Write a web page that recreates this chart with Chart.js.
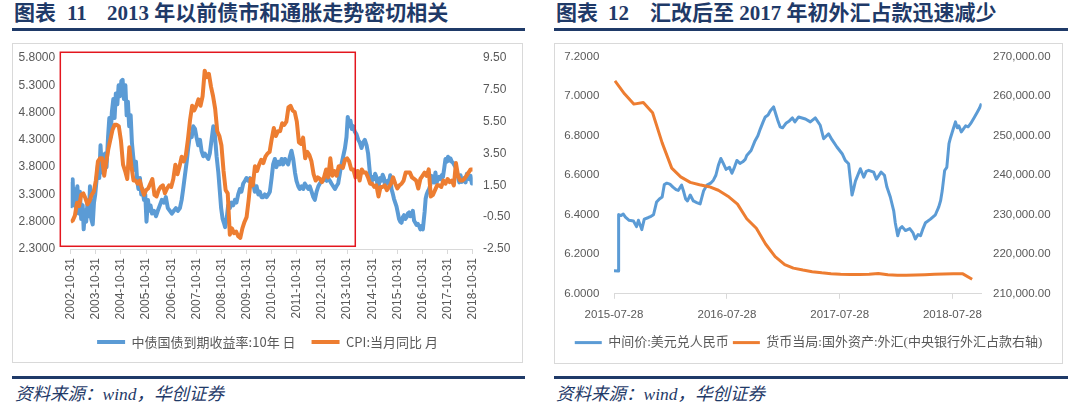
<!DOCTYPE html>
<html>
<head>
<meta charset="utf-8">
<script src="https://cdn.jsdelivr.net/npm/chart.js@4.4.0/dist/chart.umd.min.js"></script>
<style>
  body { margin: 0; width: 1079px; height: 413px; background: #fff; position: relative; overflow: hidden; }
  .title { position: absolute; top: 2px; font-family: "Liberation Serif", "Noto Sans CJK SC", serif; font-weight: bold;
           font-size: 21px; line-height: 22px; color: #1f3a68; white-space: nowrap; }
  .rule { position: absolute; height: 3px; background: #1f3a68; }
  .card { position: absolute; border: 1px solid #d9d9d9; box-sizing: border-box; }
  .source { position: absolute; top: 384px; font-family: "Liberation Serif", "Noto Sans CJK SC", serif; font-style: italic;
            font-size: 17.5px; line-height: 20px; color: #1f3a68; white-space: nowrap; }
  canvas { position: absolute; }
</style>
</head>
<body>

<div class="title" style="left:14px">图表<span style="margin-left:11px">11</span></div>
<div class="title" style="left:107px">2013 年以前债市和通胀走势密切相关</div>
<div class="rule" style="left:12px; width:513px; top:28px"></div>
<div class="card" style="left:12px; top:43px; width:511px; height:320px"></div>
<canvas id="leftChart" width="511" height="319" style="left:12px; top:43px"></canvas>
<div class="rule" style="left:12px; width:513px; top:376px"></div>
<div class="source" style="left:15px">资料来源：wind，华创证券</div>

<div class="title" style="left:556px">图表<span style="margin-left:10px">12</span></div>
<div class="title" style="left:650px">汇改后至 2017 年初外汇占款迅速减少</div>
<div class="rule" style="left:554px; width:514px; top:28px"></div>
<div class="card" style="left:554px; top:43px; width:509px; height:321px"></div>
<canvas id="rightChart" width="509" height="319" style="left:554px; top:43px"></canvas>
<div class="rule" style="left:554px; width:514px; top:376px"></div>
<div class="source" style="left:556px">资料来源：wind，华创证券</div>

<script>
// ---------- left chart data ----------
const leftXTickLabels = ['2002-10-31', '2003-10-31', '2004-10-31', '2005-10-31', '2006-10-31', '2007-10-31',
  '2008-10-31', '2009-10-31', '2010-10-31', '2011-10-31', '2012-10-31', '2013-10-31', '2014-10-31',
  '2015-10-31', '2016-10-31', '2017-10-31', '2018-10-31'];
const yieldTicks = [2.3, 2.8, 3.3, 3.8, 4.3, 4.8, 5.3, 5.8];
const cpiTicks = [-2.5, -0.5, 1.5, 3.5, 5.5, 7.5, 9.5];

// 10y government bond yield, [year, value]
const bondYield = [
  [2002.83, 3.05], [2002.86, 3.50], [2002.88, 3.15], [2002.91, 3.58], [2002.95, 3.10], [2002.99, 3.40],
  [2003.04, 3.05], [2003.10, 3.45], [2003.15, 2.95], [2003.20, 3.35], [2003.25, 2.85], [2003.31, 3.10],
  [2003.35, 2.66], [2003.40, 3.00], [2003.45, 2.80], [2003.51, 3.20], [2003.56, 2.90], [2003.60, 3.45],
  [2003.65, 2.85], [2003.71, 2.75], [2003.76, 3.15], [2003.81, 3.30], [2003.86, 3.55], [2003.92, 3.85],
  [2003.97, 3.60], [2004.02, 4.20], [2004.08, 3.70], [2004.13, 3.90], [2004.20, 4.05], [2004.26, 3.80],
  [2004.32, 4.35], [2004.37, 4.70], [2004.42, 4.35], [2004.47, 4.80], [2004.53, 5.05], [2004.58, 4.70],
  [2004.63, 5.15], [2004.69, 4.95], [2004.74, 5.30], [2004.79, 5.10], [2004.85, 5.38], [2004.90, 5.40],
  [2004.95, 5.05], [2005.01, 5.30], [2005.06, 4.75], [2005.11, 5.00], [2005.16, 4.55], [2005.22, 4.75],
  [2005.27, 4.25], [2005.32, 4.00], [2005.38, 3.75], [2005.43, 3.90], [2005.48, 3.55], [2005.53, 3.40],
  [2005.59, 3.60], [2005.64, 3.30], [2005.69, 3.40], [2005.75, 3.20], [2005.80, 3.30], [2005.85, 2.80],
  [2005.91, 3.20], [2005.96, 3.00], [2006.01, 3.10], [2006.07, 2.95], [2006.15, 3.00], [2006.23, 2.90],
  [2006.30, 3.00], [2006.38, 3.10], [2006.46, 3.20], [2006.54, 3.15], [2006.62, 3.25], [2006.70, 3.05],
  [2006.78, 3.00], [2006.86, 2.95], [2006.94, 3.00], [2007.02, 3.05], [2007.10, 3.00], [2007.18, 3.05],
  [2007.25, 3.20], [2007.31, 3.40], [2007.38, 3.65], [2007.45, 3.90], [2007.51, 4.15], [2007.58, 4.40],
  [2007.65, 4.35], [2007.71, 4.55], [2007.78, 4.50], [2007.84, 4.35], [2007.91, 4.20], [2007.98, 4.30],
  [2008.04, 4.10], [2008.11, 4.00], [2008.17, 4.05], [2008.24, 4.00], [2008.31, 3.95], [2008.37, 4.05],
  [2008.44, 4.30], [2008.51, 4.55], [2008.57, 4.40], [2008.64, 4.00], [2008.71, 3.70], [2008.77, 3.35],
  [2008.82, 3.05], [2008.88, 2.85], [2008.93, 2.78], [2008.98, 2.70], [2009.04, 2.85], [2009.10, 3.10],
  [2009.17, 3.05], [2009.23, 3.15], [2009.30, 3.10], [2009.37, 3.20], [2009.43, 3.15], [2009.50, 3.30],
  [2009.57, 3.40], [2009.63, 3.35], [2009.70, 3.50], [2009.77, 3.55], [2009.83, 3.60], [2009.90, 3.55],
  [2009.97, 3.60], [2010.03, 3.45], [2010.10, 3.50], [2010.16, 3.35], [2010.23, 3.45], [2010.30, 3.30],
  [2010.36, 3.35], [2010.43, 3.25], [2010.50, 3.25], [2010.56, 3.30], [2010.63, 3.25], [2010.70, 3.30],
  [2010.76, 3.35], [2010.83, 3.60], [2010.89, 3.85], [2010.96, 3.95], [2011.02, 3.80], [2011.09, 3.90],
  [2011.16, 3.85], [2011.23, 3.95], [2011.29, 3.85], [2011.36, 3.95], [2011.43, 3.90], [2011.49, 3.85],
  [2011.56, 4.00], [2011.62, 4.10], [2011.69, 3.95], [2011.76, 3.70], [2011.82, 3.55], [2011.89, 3.45],
  [2011.95, 3.40], [2012.02, 3.45], [2012.09, 3.40], [2012.15, 3.50], [2012.22, 3.45], [2012.29, 3.40],
  [2012.35, 3.45], [2012.42, 3.35], [2012.49, 3.25], [2012.55, 3.20], [2012.62, 3.35], [2012.69, 3.45],
  [2012.75, 3.50], [2012.82, 3.55], [2012.88, 3.55], [2012.95, 3.60], [2013.02, 3.55], [2013.08, 3.60],
  [2013.15, 3.55], [2013.21, 3.50], [2013.28, 3.45], [2013.35, 3.40], [2013.41, 3.45], [2013.48, 3.50],
  [2013.55, 3.70], [2013.61, 3.85], [2013.68, 4.00], [2013.75, 4.15], [2013.81, 4.35], [2013.86, 4.72],
  [2013.92, 4.55], [2013.97, 4.65], [2014.02, 4.50], [2014.08, 4.55], [2014.14, 4.45], [2014.21, 4.40],
  [2014.28, 4.30], [2014.34, 4.25], [2014.41, 4.15], [2014.47, 4.25], [2014.54, 4.30], [2014.61, 4.20],
  [2014.67, 4.05], [2014.72, 3.80], [2014.76, 3.60], [2014.80, 3.50], [2014.85, 3.62], [2014.90, 3.58],
  [2014.95, 3.68], [2015.00, 3.62], [2015.05, 3.45], [2015.10, 3.48], [2015.15, 3.60], [2015.20, 3.55],
  [2015.25, 3.66], [2015.30, 3.60], [2015.35, 3.45], [2015.40, 3.50], [2015.45, 3.55], [2015.50, 3.50],
  [2015.55, 3.65], [2015.60, 3.40], [2015.65, 3.32], [2015.70, 3.22], [2015.75, 3.15], [2015.80, 3.08],
  [2015.85, 2.97], [2015.90, 2.85], [2015.95, 2.80], [2016.00, 2.78], [2016.05, 2.88], [2016.10, 2.92],
  [2016.15, 2.85], [2016.20, 2.88], [2016.25, 2.95], [2016.30, 2.97], [2016.35, 2.90], [2016.40, 2.93],
  [2016.45, 3.00], [2016.50, 2.82], [2016.55, 2.78], [2016.60, 2.74], [2016.65, 2.76], [2016.70, 2.72],
  [2016.75, 2.66], [2016.80, 2.72], [2016.85, 2.66], [2016.88, 2.80], [2016.92, 2.98], [2016.96, 3.22],
  [2017.00, 3.30], [2017.05, 3.36], [2017.10, 3.40], [2017.15, 3.48], [2017.20, 3.64], [2017.25, 3.55],
  [2017.30, 3.52], [2017.35, 3.70], [2017.40, 3.52], [2017.45, 3.58], [2017.50, 3.62], [2017.55, 3.58],
  [2017.60, 3.65], [2017.65, 3.62], [2017.70, 3.78], [2017.75, 3.95], [2017.80, 3.90], [2017.85, 3.99],
  [2017.90, 3.92], [2017.95, 3.96], [2018.00, 3.90], [2018.05, 3.88], [2018.10, 3.84], [2018.15, 3.80],
  [2018.20, 3.72], [2018.25, 3.62], [2018.30, 3.52], [2018.35, 3.65], [2018.40, 3.53], [2018.45, 3.55],
  [2018.50, 3.60], [2018.55, 3.52], [2018.60, 3.68], [2018.65, 3.62], [2018.70, 3.58], [2018.75, 3.64],
  [2018.80, 3.50], [2018.83, 3.59]
];

// CPI yoy, monthly from 2002-10 to 2018-10
const cpiStartYear = 2002 + 10 / 12;
const cpiYoY = [
  -0.8, -0.7, -0.4,
  0.4, 0.2, 0.9, 1.0, 0.7, 0.3, 0.5, 0.9, 1.1, 1.8, 3.0, 3.2,
  3.2, 2.1, 3.0, 3.8, 4.4, 5.0, 5.3, 5.3, 5.2, 4.3, 2.8, 2.4,
  1.9, 3.9, 2.7, 1.8, 1.8, 1.6, 1.8, 1.3, 0.9, 1.2, 1.3, 1.6,
  1.9, 0.9, 0.8, 1.2, 1.4, 1.5, 1.0, 1.3, 1.5, 1.4, 1.9, 2.8,
  2.2, 2.7, 3.3, 3.0, 3.4, 4.4, 5.6, 6.5, 6.2, 6.5, 6.9, 6.5,
  7.1, 8.7, 8.3, 8.5, 7.7, 7.1, 6.3, 4.9, 4.6, 4.0, 2.4, 1.2,
  1.0, -1.6, -1.2, -1.5, -1.4, -1.7, -1.8, -1.2, -0.8, -0.5, 0.6, 1.9,
  1.5, 2.7, 2.4, 2.8, 3.1, 2.9, 3.3, 3.5, 3.6, 4.4, 5.1, 4.6,
  4.9, 4.9, 5.4, 5.3, 5.5, 6.4, 6.5, 6.2, 6.1, 5.5, 4.2, 4.1,
  4.5, 3.2, 3.6, 3.4, 3.0, 2.2, 1.8, 2.0, 1.9, 1.7, 2.0, 2.5,
  2.0, 3.2, 2.1, 2.4, 2.1, 2.7, 2.7, 2.6, 3.1, 3.2, 3.0, 2.5,
  2.5, 2.0, 2.4, 1.8, 2.5, 2.3, 2.3, 2.0, 1.6, 1.6, 1.4, 1.5,
  0.8, 1.4, 1.4, 1.5, 1.2, 1.4, 1.6, 2.0, 1.6, 1.3, 1.5, 1.6,
  1.8, 2.3, 2.3, 2.3, 2.0, 1.9, 1.8, 1.3, 1.9, 2.1, 2.3, 2.1,
  2.5, 0.8, 0.9, 1.2, 1.5, 1.5, 1.4, 1.8, 1.6, 1.9, 1.7, 1.8,
  1.5, 2.9, 2.1, 1.8, 1.8, 1.9, 2.1, 2.3, 2.5, 2.5
];

// red highlight box (x in years, y on the yield axis)
const highlightRange = { xFrom: 2002.42, xTo: 2014.16, yFrom: 2.35, yTo: 5.905 };

// ---------- right chart data ----------
const rightXTickLabels = ['2015-07-28', '2016-07-28', '2017-07-28', '2018-07-28'];
const cnyTicks = [6.0, 6.2, 6.4, 6.6, 6.8, 7.0, 7.2];
const fxTicks = [210000, 220000, 230000, 240000, 250000, 260000, 270000];

// USD/CNY central parity, [date, value]
const usdCny = [
  ['2015-07-28', 6.117], ['2015-08-10', 6.116], ['2015-08-11', 6.230], ['2015-08-12', 6.331], ['2015-08-13', 6.401],
  ['2015-08-20', 6.396], ['2015-08-27', 6.404], ['2015-09-03', 6.388], ['2015-09-15', 6.372], ['2015-09-29', 6.368],
  ['2015-10-09', 6.340], ['2015-10-15', 6.372], ['2015-10-26', 6.325], ['2015-11-03', 6.378], ['2015-11-15', 6.385],
  ['2015-11-25', 6.392], ['2015-12-03', 6.400], ['2015-12-13', 6.465], ['2015-12-22', 6.480], ['2015-12-31', 6.490],
  ['2016-01-07', 6.553], ['2016-01-15', 6.560], ['2016-01-25', 6.555], ['2016-02-04', 6.540], ['2016-02-14', 6.527],
  ['2016-02-21', 6.523], ['2016-03-03', 6.550], ['2016-03-10', 6.515], ['2016-03-16', 6.480], ['2016-03-22', 6.470],
  ['2016-03-31', 6.500], ['2016-04-10', 6.470], ['2016-04-21', 6.462], ['2016-05-02', 6.455], ['2016-05-08', 6.490],
  ['2016-05-13', 6.520], ['2016-05-24', 6.550], ['2016-06-05', 6.560], ['2016-06-14', 6.575], ['2016-06-22', 6.600],
  ['2016-06-30', 6.650], ['2016-07-08', 6.685], ['2016-07-16', 6.660], ['2016-07-25', 6.630], ['2016-08-05', 6.640],
  ['2016-08-13', 6.610], ['2016-08-21', 6.640], ['2016-08-29', 6.675], ['2016-09-08', 6.660], ['2016-09-17', 6.668],
  ['2016-09-25', 6.680], ['2016-09-30', 6.700], ['2016-10-14', 6.725], ['2016-10-27', 6.775], ['2016-11-05', 6.800],
  ['2016-11-13', 6.835], ['2016-11-22', 6.870], ['2016-11-29', 6.895], ['2016-12-08', 6.905], ['2016-12-15', 6.925],
  ['2016-12-26', 6.946], ['2017-01-02', 6.910], ['2017-01-08', 6.880], ['2017-01-16', 6.845], ['2017-01-24', 6.840],
  ['2017-02-05', 6.865], ['2017-02-15', 6.875], ['2017-02-25', 6.890], ['2017-03-05', 6.870], ['2017-03-17', 6.895],
  ['2017-04-08', 6.885], ['2017-04-24', 6.870], ['2017-05-10', 6.890], ['2017-05-26', 6.853], ['2017-06-06', 6.785],
  ['2017-06-22', 6.810], ['2017-07-03', 6.780], ['2017-07-19', 6.743], ['2017-08-05', 6.709], ['2017-08-15', 6.675],
  ['2017-08-26', 6.658], ['2017-09-06', 6.500], ['2017-09-11', 6.530], ['2017-09-17', 6.570], ['2017-10-03', 6.633],
  ['2017-10-14', 6.590], ['2017-10-22', 6.620], ['2017-10-30', 6.625], ['2017-11-15', 6.616], ['2017-11-24', 6.580],
  ['2017-12-09', 6.616], ['2017-12-20', 6.600], ['2017-12-28', 6.540], ['2018-01-08', 6.490], ['2018-01-19', 6.420],
  ['2018-01-24', 6.360], ['2018-02-01', 6.294], ['2018-02-08', 6.330], ['2018-02-15', 6.340], ['2018-02-26', 6.320],
  ['2018-03-12', 6.330], ['2018-03-22', 6.310], ['2018-03-30', 6.277], ['2018-04-08', 6.300], ['2018-04-16', 6.294],
  ['2018-04-24', 6.330], ['2018-05-02', 6.360], ['2018-05-18', 6.378], ['2018-06-03', 6.400], ['2018-06-14', 6.440],
  ['2018-06-20', 6.472], ['2018-06-25', 6.520], ['2018-07-03', 6.624], ['2018-07-10', 6.640], ['2018-07-17', 6.760],
  ['2018-07-22', 6.790], ['2018-07-30', 6.830], ['2018-08-07', 6.870], ['2018-08-13', 6.840], ['2018-08-18', 6.850],
  ['2018-08-26', 6.819], ['2018-09-02', 6.835], ['2018-09-09', 6.850], ['2018-09-17', 6.845], ['2018-09-25', 6.861],
  ['2018-10-06', 6.890], ['2018-10-17', 6.920], ['2018-10-24', 6.940], ['2018-10-30', 6.963]
];

// central bank foreign exchange assets, month ends
const fxMonths = ['2015-07', '2015-08', '2015-09', '2015-10', '2015-11', '2015-12',
  '2016-01', '2016-02', '2016-03', '2016-04', '2016-05', '2016-06', '2016-07', '2016-08', '2016-09',
  '2016-10', '2016-11', '2016-12', '2017-01', '2017-02', '2017-03', '2017-04', '2017-05', '2017-06',
  '2017-07', '2017-08', '2017-09', '2017-10', '2017-11', '2017-12', '2018-01', '2018-02', '2018-03',
  '2018-04', '2018-05', '2018-06', '2018-07', '2018-08', '2018-09'];
const fxAssets = [263900, 260600, 258000, 258400, 255800, 248200,
  241800, 239600, 238200, 237600, 237100, 236200, 234700, 232700, 229000,
  226600, 222600, 219400, 217400, 216500, 216000, 215600, 215300, 215100,
  214950, 214900, 214900, 214950, 215150, 214800, 214700, 214700, 214750,
  214850, 214950, 215000, 215050, 215050, 213700];

// ---------- helpers ----------
const axisColor = '#d9d9d9';
const labelColor = '#595959';

function monthEnd(ym) {
  const y = Number(ym.slice(0, 4));
  const m = Number(ym.slice(5, 7));
  return Date.UTC(y, m, 0);
}

// fixed axis size, and no extra vertical room for the end labels
function fixWidth(w) {
  return scale => {
    scale.width = w;
    scale.paddingTop = 0;
    scale.paddingBottom = 0;
  };
}
function fixHeight(h) {
  return scale => {
    scale.height = h;
    scale.paddingLeft = 0;
    scale.paddingRight = 0;
  };
}

// legend in dataset order, not draw order
const byDataset = (a, b) => a.datasetIndex - b.datasetIndex;

// draws the red rectangle around the pre-2014 period
const highlightBox = {
  id: 'highlightBox',
  afterDatasetsDraw(chart) {
    const ctx = chart.ctx;
    const x = chart.scales.x;
    const y = chart.scales.yL;
    const left = x.getPixelForValue(highlightRange.xFrom);
    const right = x.getPixelForValue(highlightRange.xTo);
    const top = y.getPixelForValue(highlightRange.yTo);
    const bottom = y.getPixelForValue(highlightRange.yFrom);
    ctx.save();
    ctx.strokeStyle = '#e3161e';
    ctx.lineWidth = 1.5;
    ctx.strokeRect(left, top, right - left, bottom - top);
    ctx.restore();
  }
};

// ---------- left chart ----------
new Chart(document.getElementById('leftChart'), {
  type: 'line',
  data: {
    datasets: [
      {
        label: '中债国债到期收益率:10年 日',
        data: bondYield.map(p => ({ x: p[0], y: p[1] })),
        yAxisID: 'yL',
        borderColor: '#5b9bd5',
        backgroundColor: '#5b9bd5',
        borderWidth: 4,
        pointRadius: 0,
        borderJoinStyle: 'round',
        order: 1
      },
      {
        label: 'CPI:当月同比 月',
        data: cpiYoY.map((v, i) => ({ x: cpiStartYear + i / 12, y: v })),
        yAxisID: 'yR',
        borderColor: '#ed7d31',
        backgroundColor: '#ed7d31',
        borderWidth: 4,
        pointRadius: 0,
        borderJoinStyle: 'round',
        order: 0
      }
    ]
  },
  options: {
    responsive: false,
    animation: false,
    layout: { padding: { top: 15, bottom: 3.5, left: 0, right: 0 } },
    plugins: {
      tooltip: { enabled: false },
      legend: {
        position: 'bottom',
        labels: {
          usePointStyle: true,
          pointStyle: 'line',
          pointStyleWidth: 28,
          padding: 16,
          color: labelColor,
          sort: byDataset,
          font: { family: '"Noto Sans CJK SC"', size: 13 }
        }
      }
    },
    scales: {
      x: {
        type: 'linear',
        min: cpiStartYear,
        max: cpiStartYear + 16,
        afterBuildTicks(scale) {
          scale.ticks = leftXTickLabels.map(s => ({ value: Number(s.slice(0, 4)) + 10 / 12 }));
        },
        afterFit: fixHeight(70.5),
        ticks: {
          autoSkip: false,
          minRotation: 90,
          maxRotation: 90,
          padding: 4,
          color: labelColor,
          font: { family: '"Liberation Sans"', size: 12 },
          callback: (v, i) => leftXTickLabels[i]
        },
        grid: { display: true, drawOnChartArea: false, drawTicks: true, tickLength: 5, color: axisColor },
        border: { display: true, color: axisColor }
      },
      yL: {
        position: 'left',
        min: 2.3,
        max: 5.8,
        afterBuildTicks(scale) { scale.ticks = yieldTicks.map(v => ({ value: v })); },
        afterFit: fixWidth(58.7),
        ticks: {
          padding: 15.5,
          color: labelColor,
          font: { family: '"Liberation Sans"', size: 12 },
          callback: v => v.toFixed(4)
        },
        grid: { display: false, drawTicks: false },
        border: { display: false }
      },
      yR: {
        position: 'right',
        min: -2.5,
        max: 9.5,
        afterBuildTicks(scale) { scale.ticks = cpiTicks.map(v => ({ value: v })); },
        afterFit: fixWidth(50.3),
        ticks: {
          padding: 10.3,
          color: labelColor,
          font: { family: '"Liberation Sans"', size: 12 },
          callback: v => v.toFixed(2)
        },
        grid: { display: false, drawTicks: false },
        border: { display: false }
      }
    }
  },
  plugins: [highlightBox]
});

// ---------- right chart ----------
new Chart(document.getElementById('rightChart'), {
  type: 'line',
  data: {
    datasets: [
      {
        label: '中间价:美元兑人民币',
        data: usdCny.map(p => ({ x: Date.parse(p[0]), y: p[1] })),
        yAxisID: 'yL',
        borderColor: '#5b9bd5',
        backgroundColor: '#5b9bd5',
        borderWidth: 3,
        pointRadius: 0,
        borderJoinStyle: 'round',
        order: 1
      },
      {
        label: '货币当局:国外资产:外汇(中央银行外汇占款右轴)',
        data: fxMonths.map((m, i) => ({ x: monthEnd(m), y: fxAssets[i] })),
        yAxisID: 'yR',
        borderColor: '#ed7d31',
        backgroundColor: '#ed7d31',
        borderWidth: 3,
        pointRadius: 0,
        borderJoinStyle: 'round',
        order: 0
      }
    ]
  },
  options: {
    responsive: false,
    animation: false,
    layout: { padding: { top: 13.7, bottom: 2.9, left: 0, right: 0 } },
    plugins: {
      tooltip: { enabled: false },
      legend: {
        position: 'bottom',
        labels: {
          usePointStyle: true,
          pointStyle: 'line',
          pointStyleWidth: 27,
          padding: 4,
          color: labelColor,
          sort: byDataset,
          font: { family: '"Liberation Serif", "Noto Sans CJK SC"', size: 13 }
        }
      }
    },
    scales: {
      x: {
        type: 'linear',
        min: Date.parse('2015-07-28'),
        max: Date.parse('2018-10-31'),
        afterBuildTicks(scale) {
          scale.ticks = rightXTickLabels.map(s => ({ value: Date.parse(s) }));
        },
        afterFit: fixHeight(38.3),
        ticks: {
          autoSkip: false,
          minRotation: 0,
          maxRotation: 0,
          padding: 9,
          color: labelColor,
          font: { family: '"Liberation Sans"', size: 11.5 },
          callback: (v, i) => rightXTickLabels[i]
        },
        grid: { display: true, drawOnChartArea: false, drawTicks: true, tickLength: 5, color: axisColor },
        border: { display: true, color: axisColor }
      },
      yL: {
        position: 'left',
        min: 6.0,
        max: 7.2,
        afterBuildTicks(scale) { scale.ticks = cnyTicks.map(v => ({ value: v })); },
        afterFit: fixWidth(60),
        ticks: {
          padding: 14.7,
          color: labelColor,
          font: { family: '"Liberation Sans"', size: 11.5 },
          callback: v => v.toFixed(4)
        },
        grid: { display: false, drawTicks: false },
        border: { display: false }
      },
      yR: {
        position: 'right',
        min: 210000,
        max: 270000,
        afterBuildTicks(scale) { scale.ticks = fxTicks.map(v => ({ value: v })); },
        afterFit: fixWidth(81.3),
        ticks: {
          padding: 11.3,
          color: labelColor,
          font: { family: '"Liberation Sans"', size: 11.5 },
          callback: v => v.toLocaleString('en-US', { minimumFractionDigits: 2, maximumFractionDigits: 2 })
        },
        grid: { display: false, drawTicks: false },
        border: { display: false }
      }
    }
  }
});
</script>
</body>
</html>
